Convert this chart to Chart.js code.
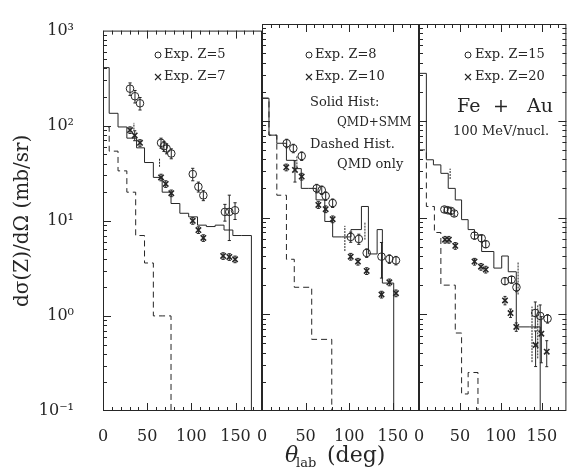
<!DOCTYPE html>
<html><head><meta charset="utf-8">
<script src="https://cdn.jsdelivr.net/npm/chart.js@4.4.0/dist/chart.umd.min.js"></script>
<style>
html,body{margin:0;padding:0;background:#fff;}
#wrap{position:relative;width:572px;height:470px;}
#wrap canvas{position:absolute;left:0;top:0;width:572px;height:470px;}
</style></head><body>
<div id="wrap">
<canvas id="c1" width="572" height="470"></canvas>
<canvas id="c2" width="572" height="470"></canvas>
<canvas id="c3" width="572" height="470"></canvas>
</div>
<script>
// ---------- tick labels ----------
const xTickValues = [0, 50, 100, 150];
const yTickValues = [0.1, 1, 10, 100, 1000];
const yTickLabels = ['10\u207B\u00B9', '10\u2070', '10\u00B9', '10\u00B2', '10\u00B3'];

// ---------- panel 1 : Z=5, Z=7 ----------
const p1SolidEdges = [0, 7, 17, 27, 38, 47, 57, 67, 77, 87, 97, 107, 117, 127, 137, 147, 157, 168];
const p1SolidVals  = [2000, 408, 135, 97, 74, 58.5, 41, 28.6, 20, 15.2, 12, 11, 9, 8.7, 9, 8, 7];
const p1DashEdges  = [0, 7, 17, 27, 37, 47, 57, 67, 77];
const p1DashVals   = [2000, 97, 54, 33.5, 20, 7, 3.6, 1.0];
const p1HistErrAngle = [35, 64];
const p1HistErrLo    = [91, 37];
const p1HistErrHi    = [107, 45];
const p1Z5Angle = [30.6, 36.2, 41.9, 65.7, 69, 72, 77.3, 101.6, 108, 113.6, 138, 143, 149.5];
const p1Z5Val   = [245, 204, 172, 66, 61, 57.5, 51, 31, 22.8, 18.5, 12.4, 12.4, 12.9];
const p1Z5Err   = [0.15, 0.15, 0.15, 0.12, 0.12, 0.12, 0.12, 0.15, 0.12, 0.12, 0.2, 0.5, 0.2];
const p1Z7Angle = [30.6, 35.9, 41.9, 65.7, 71, 77.3, 101.6, 108, 113.6, 136, 143, 149.5];
const p1Z7Val   = [90, 79, 66, 28.6, 24.4, 19.5, 10, 8.0, 6.6, 4.27, 4.17, 3.94];
const p1Z7Err   = [0.08, 0.12, 0.08, 0.08, 0.08, 0.08, 0.08, 0.08, 0.08, 0.08, 0.08, 0.08];

// ---------- panel 2 : Z=8, Z=10 ----------
const p2SolidEdges = [0, 8, 17, 28, 37, 45, 53, 62, 72, 81, 91, 102, 114, 122, 132, 138, 144, 151];
const p2SolidVals  = [900, 171, 71, 58.5, 39, 32, 20, 20, 15.2, 9.1, 6.3, 6.3, 7.5, 13, 4.2, 7.5, 2.1];
const p2DashEdges  = [0, 8, 17, 28, 37, 57, 64, 80];
const p2DashVals   = [900, 171, 71, 17, 3.7, 1.9, 0.55];
const p2HistErrAngle = [40, 95, 118];
const p2HistErrLo    = [33, 4.5, 5.9];
const p2HistErrHi    = [43, 8.2, 9];
const p2Z8Angle  = [28.3, 35.9, 45.5, 62.7, 68.5, 73, 81, 101.7, 111, 120, 137, 146, 153.6];
const p2Z8Val    = [58.5, 51.9, 43.2, 20, 19.2, 16.7, 14.1, 6.3, 6.0, 4.3, 3.94, 3.73, 3.6];
const p2Z8Err    = [0.1, 0.1, 0.1, 0.1, 0.1, 0.1, 0.1, 0.12, 0.12, 0.1, 0.4, 0.1, 0.1];
const p2Z10Angle = [27.8, 37.8, 45.5, 64.6, 73, 81, 101.7, 110, 120, 137, 146, 153.6];
const p2Z10Val   = [33, 31, 26.5, 13.5, 12.2, 9.6, 3.94, 3.5, 2.8, 1.6, 2.14, 1.65];
const p2Z10Err   = [0.08, 0.25, 0.08, 0.08, 0.08, 0.08, 0.08, 0.08, 0.08, 0.08, 0.08, 0.08];

// ---------- panel 3 : Z=15, Z=20 ----------
const p3SolidEdges = [0, 9, 17.6, 26.7, 35.7, 44.3, 52, 60, 67.8, 76.5, 91.4, 101, 109, 118.8, 134.5, 148];
const p3SolidVals  = [870, 309, 39.5, 35, 28.6, 20, 15.2, 9.5, 7.5, 6.6, 4.45, 3.0, 4.0, 2.75, 0.74];
const p3DashEdges  = [0, 9, 18.8, 26.7, 44.3, 52, 60, 66, 72];
const p3DashVals   = [870, 50, 13, 7, 2.0, 0.64, 0.15, 0.25];
const p3HistErrAngle = [38, 121, 138, 145];
const p3HistErrLo    = [25, 1.6, 0.32, 0.35];
const p3HistErrHi    = [32, 3.5, 1.2, 1.25];
const p3Z15Angle = [31, 35, 39, 43, 67.8, 76.5, 81.5, 105, 113, 119, 142, 148, 157];
const p3Z15Val   = [12.1, 11.9, 11.7, 11.0, 6.5, 6.1, 5.3, 2.2, 2.28, 1.9, 1.03, 0.96, 0.9];
const p3Z15Err   = [0.06, 0.06, 0.06, 0.06, 0.08, 0.08, 0.08, 0.08, 0.08, 0.1, 0.3, 0.3, 0.1];
const p3Z20Angle = [31.8, 36.5, 44.3, 67.8, 75.7, 81.5, 105, 111.8, 118.8, 142.4, 149.4, 156];
const p3Z20Val   = [5.9, 5.9, 5.1, 3.5, 3.1, 2.9, 1.39, 1.03, 0.74, 0.48, 0.63, 0.41];
const p3Z20Err   = [0.08, 0.08, 0.08, 0.08, 0.08, 0.08, 0.1, 0.1, 0.1, 0.4, 0.5, 0.3];

// ---------- helpers ----------
const INK = '#262626';
const SERIF = '"DejaVu Serif", "Liberation Serif", serif';

function stepData(edges, vals) {
  const d = edges.map((e, i) => ({x: e, y: vals[Math.min(i, vals.length - 1)]}));
  d.push({x: edges[edges.length - 1], y: 0.001});
  return d;
}
function barData(xs, los, his, cap) {
  const d = [];
  xs.forEach((x, i) => {
    d.push({x, y: los[i]}, {x, y: his[i]}, {x, y: null});
    if (cap) {
      d.push({x: x - cap, y: los[i]}, {x: x + cap, y: los[i]}, {x, y: null});
      d.push({x: x - cap, y: his[i]}, {x: x + cap, y: his[i]}, {x, y: null});
    }
  });
  return d;
}
function pts(xs, ys) { return xs.map((x, i) => ({x, y: ys[i]})); }

function histSet(edges, vals, dashed) {
  return {type: 'line', data: stepData(edges, vals), stepped: 'after', borderColor: INK,
    borderWidth: 1, pointRadius: 0, fill: false, borderDash: dashed ? [6, 4] : [], order: 3};
}
function errSet(xs, ys, errs) {
  const lo = ys.map((y, i) => y * (1 - errs[i]));
  const hi = ys.map((y, i) => y * (1 + errs[i]));
  return {type: 'line', data: barData(xs, lo, hi, 1.8), borderColor: INK, borderWidth: 1,
    pointRadius: 0, spanGaps: false, fill: false, order: 2};
}
function histErrSet(xs, lo, hi) {
  return {type: 'line', data: barData(xs, lo, hi, 0), borderColor: INK, borderWidth: 1,
    borderDash: [2, 1], pointRadius: 0, spanGaps: false, fill: false, order: 2};
}
function markSet(xs, ys, style) {
  return {type: 'line', data: pts(xs, ys), showLine: false, pointStyle: style,
    pointRadius: 3.8, borderColor: INK, pointBorderWidth: style === 'circle' ? 1 : 1.6,
    backgroundColor: 'rgba(0,0,0,0)', order: 1};
}

const framePlugin = {
  id: 'frame',
  afterDatasetsDraw(chart, args, opts) {
    const {ctx, chartArea: a} = chart;
    const x = chart.scales.x, y = chart.scales.y;
    ctx.save();
    ctx.strokeStyle = INK; ctx.lineWidth = 1;
    ctx.strokeRect(a.left + 0.5, a.top + 0.5, a.right - a.left - 1, a.bottom - a.top - 1);
    ctx.beginPath();
    for (let v = 10; v < 180; v += 10) {
      const px = Math.round(x.getPixelForValue(v)) + 0.5;
      const L = v % 50 === 0 ? 8 : 4;
      ctx.moveTo(px, a.bottom); ctx.lineTo(px, a.bottom - L);
      ctx.moveTo(px, a.top); ctx.lineTo(px, a.top + L);
    }
    for (let e = -1; e <= 2; e++) {
      for (let m = 1; m <= 9; m++) {
        if (e === -1 && m === 1) continue;
        const v = m * Math.pow(10, e);
        const py = Math.round(y.getPixelForValue(v)) + 0.5;
        const L = m === 1 ? 8 : 4;
        ctx.moveTo(a.left, py); ctx.lineTo(a.left + L, py);
        if (opts.right) { ctx.moveTo(a.right, py); ctx.lineTo(a.right - L, py); }
      }
    }
    ctx.stroke();
    ctx.restore();
  }
};

const notesPlugin = {
  id: 'notes',
  afterDraw(chart, args, opts) {
    const ctx = chart.ctx;
    ctx.save();
    ctx.fillStyle = INK; ctx.strokeStyle = INK;
    ctx.textBaseline = 'middle';
    (opts.items || []).forEach(it => {
      if (it.sym === 'circle') {
        ctx.lineWidth = 1; ctx.beginPath(); ctx.arc(it.x, it.y, 3, 0, Math.PI * 2); ctx.stroke();
      } else if (it.sym === 'cross') {
        ctx.lineWidth = 1.1; ctx.beginPath();
        ctx.moveTo(it.x - 3, it.y - 3); ctx.lineTo(it.x + 3, it.y + 3);
        ctx.moveTo(it.x + 3, it.y - 3); ctx.lineTo(it.x - 3, it.y + 3); ctx.stroke();
      } else {
        ctx.font = it.font || ('13px ' + SERIF);
        ctx.textAlign = it.align || 'left';
        ctx.fillText(it.text, it.x, it.y);
      }
    });
    ctx.restore();
  }
};

function makePanel(id, cfg) {
  return new Chart(document.getElementById(id), {
    type: 'line',
    data: {datasets: cfg.datasets},
    options: {
      responsive: false, animation: false, devicePixelRatio: 1,
      layout: {padding: {left: cfg.padL, right: cfg.padR, top: 24, bottom: 0}},
      plugins: {legend: {display: false}, tooltip: {enabled: false},
        frame: {right: !!cfg.right}, notes: {items: cfg.notes}},
      scales: {
        x: {type: 'linear', min: 0, max: 180,
          afterFit: s => { s.height = 59; },
          afterBuildTicks: s => { s.ticks = xTickValues.map(v => ({value: v})); },
          ticks: {autoSkip: false, maxRotation: 0, padding: 8, color: INK,
            font: {family: SERIF, size: 16}, callback: v => String(v)},
          grid: {display: false}, border: {display: false}},
        y: {type: 'logarithmic', min: 0.1, max: 1000,
          afterFit: s => { s.width = cfg.yw; },
          afterBuildTicks: s => { s.ticks = yTickValues.map(v => ({value: v})); },
          ticks: {display: cfg.first, padding: 21, color: INK, font: {family: SERIF, size: 16},
            callback: v => yTickLabels[yTickValues.indexOf(v)] || ''},
          grid: {display: false}, border: {display: false},
          title: {display: cfg.first, text: 'd\u03C3(Z)/d\u03A9 (mb/sr)', color: INK,
            font: {family: SERIF, size: 20}, padding: {top: 11, bottom: 0}}}
      }
    },
    plugins: [framePlugin, notesPlugin]
  });
}

makePanel('c1', {
  padL: 0, padR: 310, yw: 103, first: true,
  datasets: [
    histSet(p1SolidEdges, p1SolidVals, false),
    histSet(p1DashEdges, p1DashVals, true),
    histErrSet(p1HistErrAngle, p1HistErrLo, p1HistErrHi),
    errSet(p1Z5Angle, p1Z5Val, p1Z5Err),
    errSet(p1Z7Angle, p1Z7Val, p1Z7Err),
    markSet(p1Z5Angle, p1Z5Val, 'circle'),
    markSet(p1Z7Angle, p1Z7Val, 'crossRot')
  ],
  notes: [
    {sym: 'circle', x: 158, y: 55}, {text: 'Exp. Z=5', x: 164, y: 55},
    {sym: 'cross', x: 158, y: 77}, {text: 'Exp. Z=7', x: 164, y: 77}
  ]
});

makePanel('c2', {
  padL: 262, padR: 153, yw: 0, first: false,
  datasets: [
    histSet(p2SolidEdges, p2SolidVals, false),
    histSet(p2DashEdges, p2DashVals, true),
    histErrSet(p2HistErrAngle, p2HistErrLo, p2HistErrHi),
    errSet(p2Z8Angle, p2Z8Val, p2Z8Err),
    errSet(p2Z10Angle, p2Z10Val, p2Z10Err),
    markSet(p2Z8Angle, p2Z8Val, 'circle'),
    markSet(p2Z10Angle, p2Z10Val, 'crossRot')
  ],
  notes: [
    {sym: 'circle', x: 309, y: 55}, {text: 'Exp. Z=8', x: 315, y: 55},
    {sym: 'cross', x: 309, y: 77}, {text: 'Exp. Z=10', x: 315, y: 77},
    {text: 'Solid Hist:', x: 310, y: 103},
    {text: 'QMD+SMM', x: 337, y: 123, font: '12px ' + SERIF},
    {text: 'Dashed Hist.', x: 310, y: 145},
    {text: 'QMD only', x: 337, y: 165},
    {text: '\u03B8', x: 285, y: 456, font: 'italic 22px ' + SERIF},
    {text: 'lab', x: 296, y: 464, font: '13px ' + SERIF},
    {text: '(deg)', x: 327, y: 456, font: '22px ' + SERIF}
  ]
});

makePanel('c3', {
  padL: 419, padR: 1, yw: 0, first: false, right: true,
  datasets: [
    histSet(p3SolidEdges, p3SolidVals, false),
    histSet(p3DashEdges, p3DashVals, true),
    histErrSet(p3HistErrAngle, p3HistErrLo, p3HistErrHi),
    errSet(p3Z15Angle, p3Z15Val, p3Z15Err),
    errSet(p3Z20Angle, p3Z20Val, p3Z20Err),
    markSet(p3Z15Angle, p3Z15Val, 'circle'),
    markSet(p3Z20Angle, p3Z20Val, 'crossRot')
  ],
  notes: [
    {sym: 'circle', x: 468, y: 55}, {text: 'Exp. Z=15', x: 475, y: 55},
    {sym: 'cross', x: 468, y: 77}, {text: 'Exp. Z=20', x: 475, y: 77},
    {text: 'Fe', x: 457, y: 107, font: '19px ' + SERIF},
    {text: '+', x: 501, y: 107, font: '19px ' + SERIF, align: 'center'},
    {text: 'Au', x: 527, y: 107, font: '19px ' + SERIF},
    {text: '100 MeV/nucl.', x: 453, y: 132, font: '13px ' + SERIF}
  ]
});
</script>
</body></html>
